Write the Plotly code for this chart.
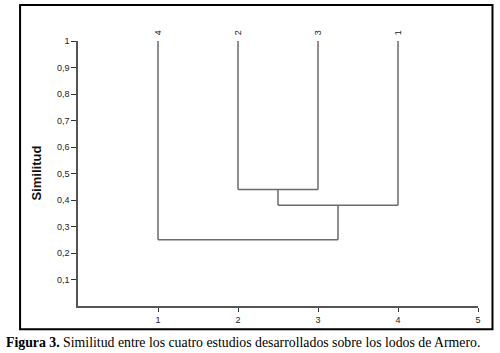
import plotly.graph_objects as go

# Data
leaf_labels = ["4", "2", "3", "1"]
leaf_positions = [1, 2, 3, 4]
leaf_top = 1.0
# merges: (node_a, node_b, similarity); nodes 0-3 are leaves, 4+ are merged clusters
merges = [(1, 2, 0.44), (4, 3, 0.38), (0, 5, 0.25)]
y_ticks = [0.1, 0.2, 0.3, 0.4, 0.5, 0.6, 0.7, 0.8, 0.9, 1.0]
y_tick_labels = ["0,1", "0,2", "0,3", "0,4", "0,5", "0,6", "0,7", "0,8", "0,9", "1"]
x_ticks = [1, 2, 3, 4, 5]
x_tick_labels = ["1", "2", "3", "4", "5"]
caption_bold = "Figura 3."
caption_text = "Similitud entre los cuatro estudios desarrollados sobre los lodos de Armero."
y_title = "Similitud"

# Build dendrogram segments
node_x = list(leaf_positions)
node_y = [leaf_top] * len(leaf_positions)
xs, ys = [], []
for a, b, h in merges:
    for n in (a, b):
        xs += [node_x[n], node_x[n], None]
        ys += [node_y[n], h, None]
    xs += [node_x[a], node_x[b], None]
    ys += [h, h, None]
    node_x.append((node_x[a] + node_x[b]) / 2)
    node_y.append(h)

line_color = "#6a6a6a"
fig = go.Figure()
fig.add_trace(go.Scatter(x=xs, y=ys, mode="lines",
                         line=dict(color=line_color, width=1.5),
                         hoverinfo="skip", showlegend=False))

L, R, T, B = 77.5, 22, 41.3, 47.3
W, H = 500, 353
pw, ph = W - L - R, H - T - B

def px(xp):
    return (xp - L) / pw

def py(yp):
    return (H - B - yp) / ph

for lab, xpos in zip(leaf_labels, leaf_positions):
    fig.add_annotation(x=xpos, y=py(33.5), xref="x", yref="paper", text=lab,
                       showarrow=False, textangle=-90, xanchor="center", yanchor="middle",
                       font=dict(family="Arial, Liberation Sans", size=9, color="#222"))

fig.add_annotation(x=px(36), y=py(173), xref="paper", yref="paper", text="<b>" + y_title + "</b>",
                   showarrow=False, textangle=-90, xanchor="center", yanchor="middle",
                   font=dict(family="Arial, Liberation Sans", size=13, color="#111"))

fig.add_annotation(x=px(3), y=py(342), xref="paper", yref="paper",
                   xanchor="left", yanchor="middle",
                   text="<b>" + caption_bold + "</b> " + caption_text,
                   showarrow=False,
                   font=dict(family="Liberation Serif, Times New Roman", size=13.8, color="#000"))

fig.add_shape(type="rect", xref="paper", yref="paper",
              x0=px(19.5), x1=px(492.5), y0=py(329), y1=py(5.5),
              line=dict(color="#000", width=2), fillcolor="rgba(0,0,0,0)", layer="below")

fig.update_layout(
    width=W, height=H,
    margin=dict(l=L, r=R, t=T, b=B, pad=0),
    paper_bgcolor="white", plot_bgcolor="white",
    xaxis=dict(range=[0, 5], tickvals=x_ticks, ticktext=x_tick_labels,
               showgrid=False, zeroline=False, showline=True, linecolor="#555", linewidth=1.5,
               ticks="outside", ticklen=4, tickcolor="#333", tickwidth=1,
               tickfont=dict(family="Arial, Liberation Sans", size=9, color="#222")),
    yaxis=dict(range=[0, 1], tickvals=y_ticks, ticktext=y_tick_labels,
               showgrid=False, zeroline=False, showline=True, linecolor="#555", linewidth=1.5,
               ticks="outside", ticklen=5, tickcolor="#333", tickwidth=1,
               tickfont=dict(family="Arial, Liberation Sans", size=9, color="#222")),
)

fig.write_html("out.html", config={"displayModeBar": False},
               post_script="document.body.style.margin='0';")
